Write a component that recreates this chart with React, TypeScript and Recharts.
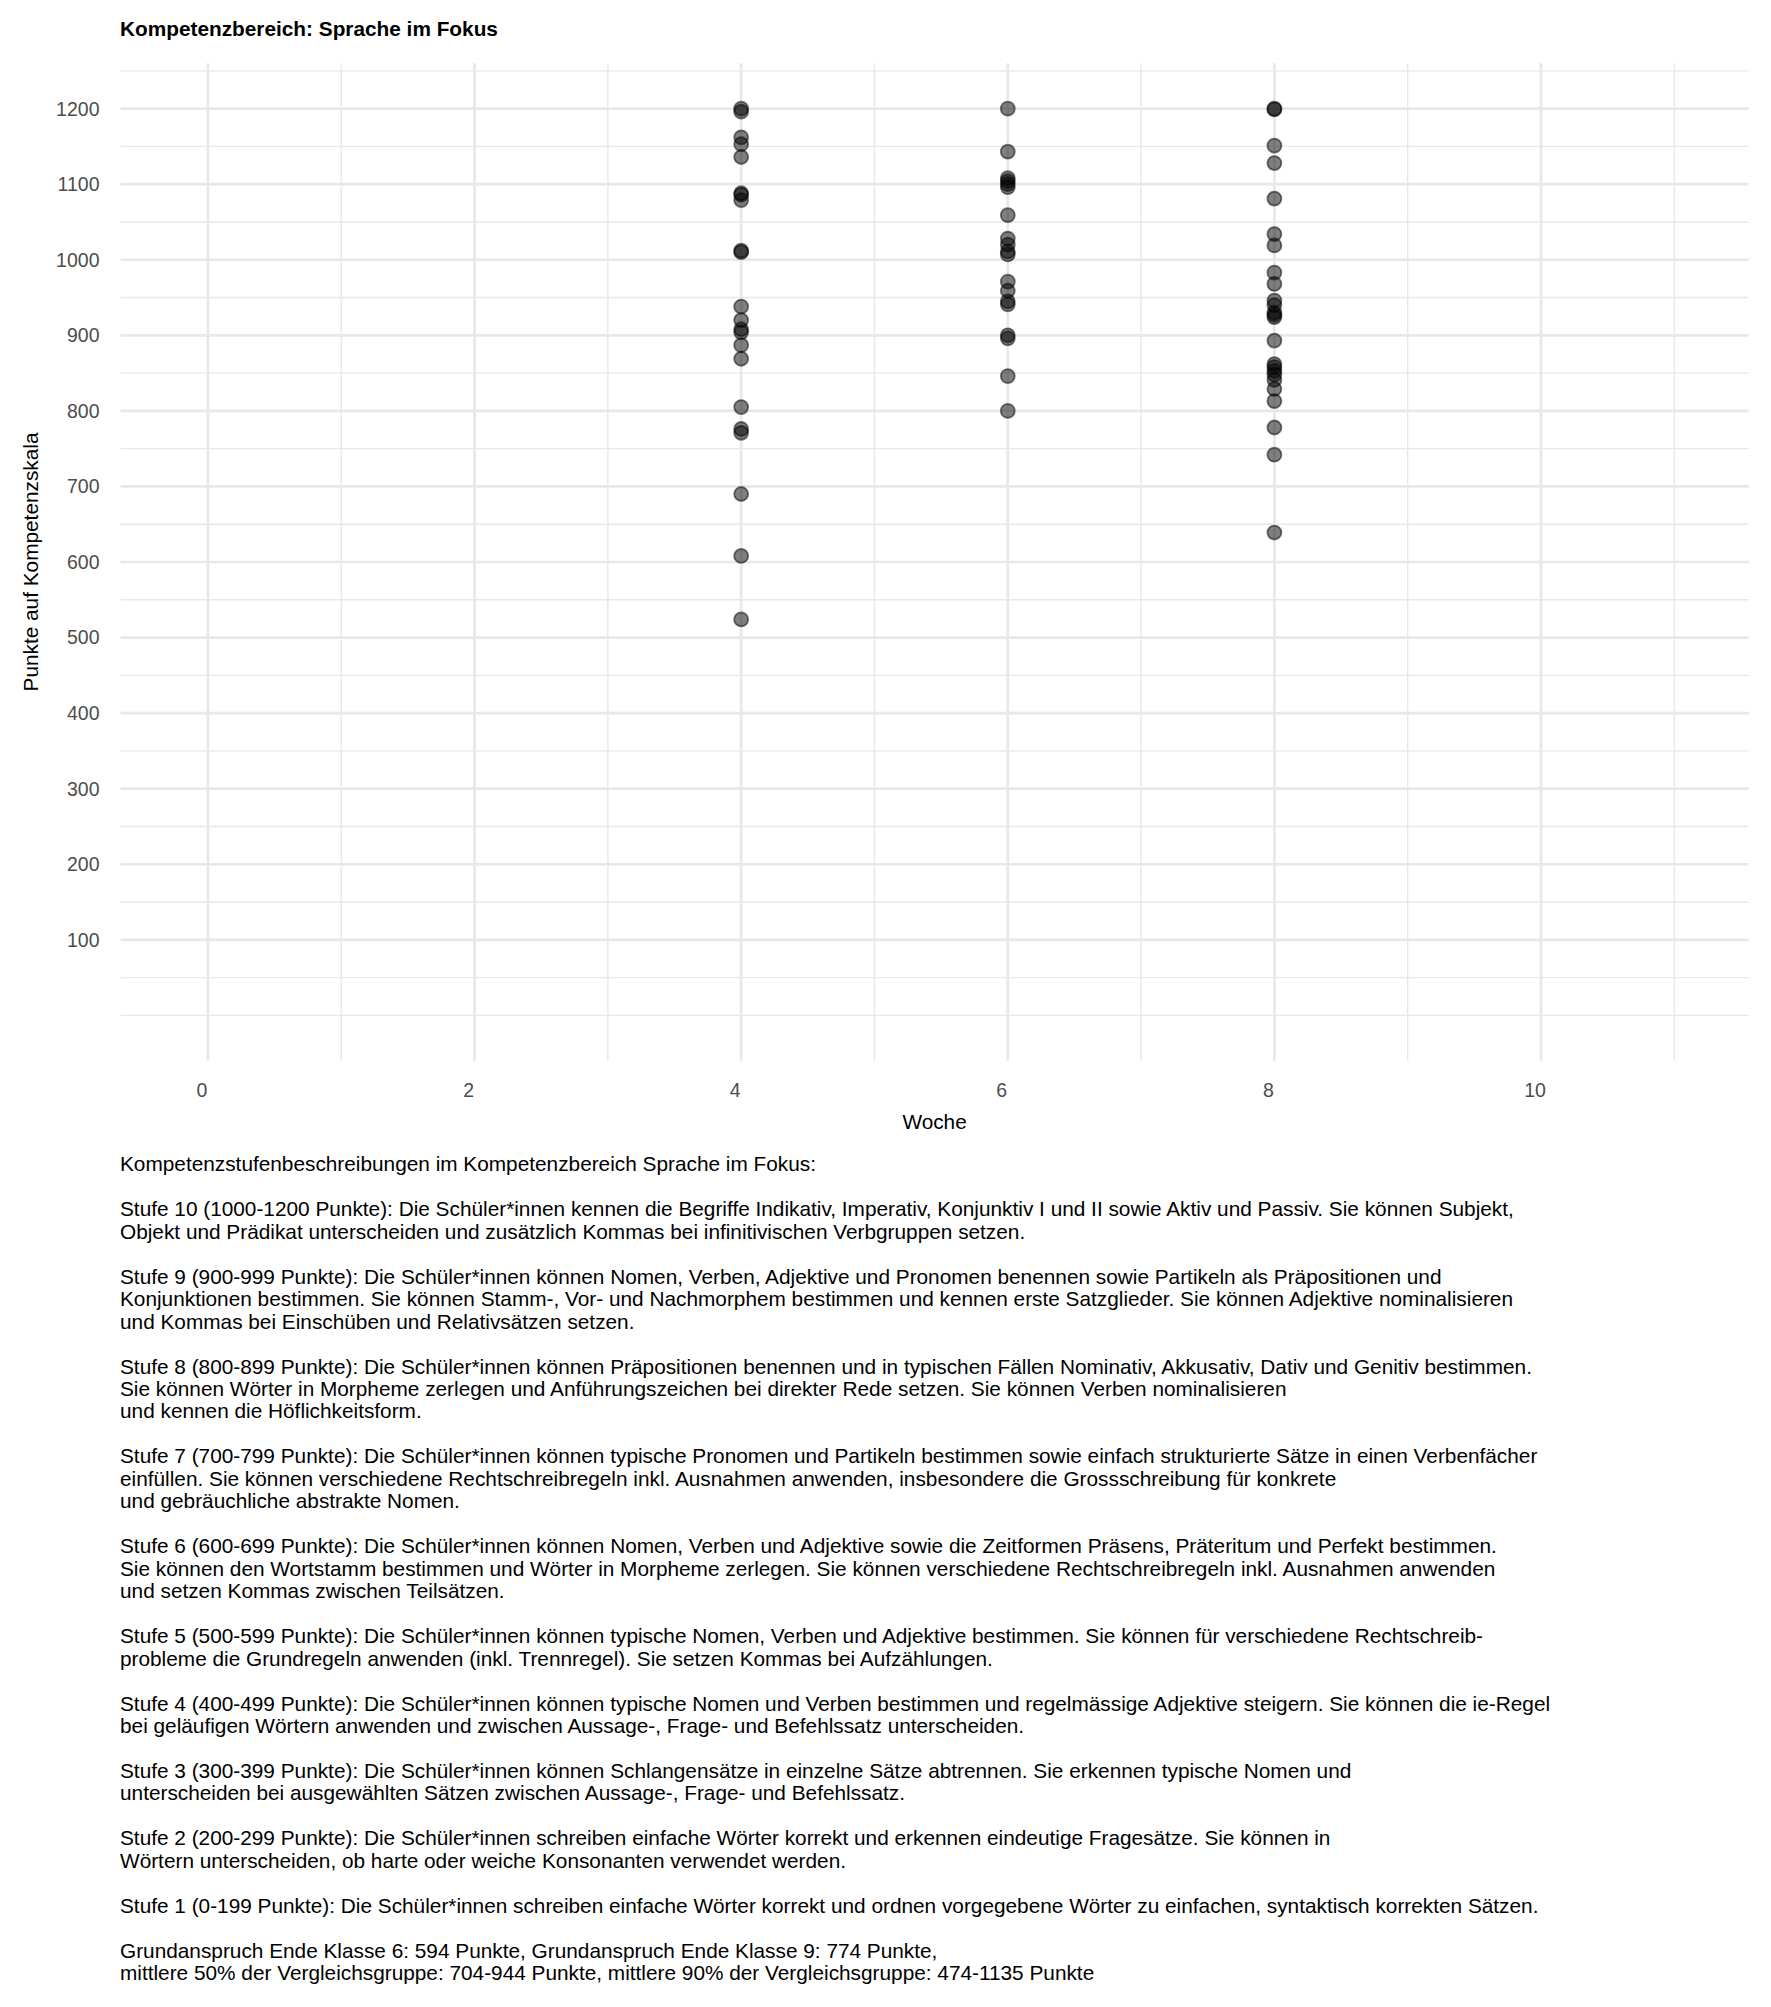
import React from "react";
import {
  ScatterChart,
  Scatter,
  XAxis,
  YAxis,
  ReferenceLine,
} from "recharts";

// Punkte je Testwoche
const woche4 = [
  1200, 1196, 1162, 1153, 1136, 1088, 1086, 1079, 1012, 1010, 938, 920, 908,
  904, 887, 869, 805, 776, 771, 690, 608, 524,
];
const woche6 = [
  1200, 1143, 1108, 1104, 1100, 1096, 1059, 1028, 1020, 1011, 1007, 971, 959,
  945, 941, 900, 896, 846, 800,
];
const woche8 = [
  1200, 1199, 1151, 1128, 1081, 1034, 1019, 983, 968, 946, 940, 930, 927, 924,
  893, 862, 858, 853, 848, 841, 829, 813, 778, 742, 639,
];

const xTicks = [0, 2, 4, 6, 8, 10];
const xMinor = [1, 3, 5, 7, 9, 11];
const yTicks = [100, 200, 300, 400, 500, 600, 700, 800, 900, 1000, 1100, 1200];
const yMinor = [0, 50, 150, 250, 350, 450, 550, 650, 750, 850, 950, 1050, 1150, 1250];

const beschreibung = [
  "Kompetenzstufenbeschreibungen im Kompetenzbereich Sprache im Fokus:",
  "",
  "Stufe 10 (1000-1200 Punkte): Die Schüler*innen kennen die Begriffe Indikativ, Imperativ, Konjunktiv I und II sowie Aktiv und Passiv. Sie können Subjekt,",
  "Objekt und Prädikat unterscheiden und zusätzlich Kommas bei infinitivischen Verbgruppen setzen.",
  "",
  "Stufe 9 (900-999 Punkte): Die Schüler*innen können Nomen, Verben, Adjektive und Pronomen benennen sowie Partikeln als Präpositionen und",
  "Konjunktionen bestimmen. Sie können Stamm-, Vor- und Nachmorphem bestimmen und kennen erste Satzglieder. Sie können Adjektive nominalisieren",
  "und Kommas bei Einschüben und Relativsätzen setzen.",
  "",
  "Stufe 8 (800-899 Punkte): Die Schüler*innen können Präpositionen benennen und in typischen Fällen Nominativ, Akkusativ, Dativ und Genitiv bestimmen.",
  "Sie können Wörter in Morpheme zerlegen und Anführungszeichen bei direkter Rede setzen. Sie können Verben nominalisieren",
  "und kennen die Höflichkeitsform.",
  "",
  "Stufe 7 (700-799 Punkte): Die Schüler*innen können typische Pronomen und Partikeln bestimmen sowie einfach strukturierte Sätze in einen Verbenfächer",
  "einfüllen. Sie können verschiedene Rechtschreibregeln inkl. Ausnahmen anwenden, insbesondere die Grossschreibung für konkrete",
  "und gebräuchliche abstrakte Nomen.",
  "",
  "Stufe 6 (600-699 Punkte): Die Schüler*innen können Nomen, Verben und Adjektive sowie die Zeitformen Präsens, Präteritum und Perfekt bestimmen.",
  "Sie können den Wortstamm bestimmen und Wörter in Morpheme zerlegen. Sie können verschiedene Rechtschreibregeln inkl. Ausnahmen anwenden",
  "und setzen Kommas zwischen Teilsätzen.",
  "",
  "Stufe 5 (500-599 Punkte): Die Schüler*innen können typische Nomen, Verben und Adjektive bestimmen. Sie können für verschiedene Rechtschreib-",
  "probleme die Grundregeln anwenden (inkl. Trennregel). Sie setzen Kommas bei Aufzählungen.",
  "",
  "Stufe 4 (400-499 Punkte): Die Schüler*innen können typische Nomen und Verben bestimmen und regelmässige Adjektive steigern. Sie können die ie-Regel",
  "bei geläufigen Wörtern anwenden und zwischen Aussage-, Frage- und Befehlssatz unterscheiden.",
  "",
  "Stufe 3 (300-399 Punkte): Die Schüler*innen können Schlangensätze in einzelne Sätze abtrennen. Sie erkennen typische Nomen und",
  "unterscheiden bei ausgewählten Sätzen zwischen Aussage-, Frage- und Befehlssatz.",
  "",
  "Stufe 2 (200-299 Punkte): Die Schüler*innen schreiben einfache Wörter korrekt und erkennen eindeutige Fragesätze. Sie können in",
  "Wörtern unterscheiden, ob harte oder weiche Konsonanten verwendet werden.",
  "",
  "Stufe 1 (0-199 Punkte): Die Schüler*innen schreiben einfache Wörter korrekt und ordnen vorgegebene Wörter zu einfachen, syntaktisch korrekten Sätzen.",
  "",
  "Grundanspruch Ende Klasse 6: 594 Punkte, Grundanspruch Ende Klasse 9: 774 Punkte,",
  "mittlere 50% der Vergleichsgruppe: 704-944 Punkte, mittlere 90% der Vergleichsgruppe: 474-1135 Punkte",
];

const FONT = "'Liberation Sans', Arial, Helvetica, sans-serif";
const GRID = "#e8e8e8";
const TEXT_SIZE = 20.8;
const TICK_SIZE = 19.5;

const punkte = [
  ...woche4.map((p) => ({ woche: 4, punkte: p })),
  ...woche6.map((p) => ({ woche: 6, punkte: p })),
  ...woche8.map((p) => ({ woche: 8, punkte: p })),
];

const Punkt = (props: any) => (
  <circle
    cx={props.cx}
    cy={props.cy}
    r={7}
    fill="rgba(0,0,0,0.5)"
    stroke="rgba(0,0,0,0.5)"
    strokeWidth={1.8}
  />
);

export default function App() {
  return (
    <div
      style={{
        position: "absolute",
        left: 0,
        top: 0,
        width: 1771,
        height: 2007,
        background: "#fff",
        fontFamily: FONT,
      }}
    >
      <div
        style={{
          position: "absolute",
          left: 120,
          top: 17,
          fontSize: TEXT_SIZE,
          lineHeight: "24px",
          fontWeight: 700,
          color: "#000",
          whiteSpace: "nowrap",
        }}
      >
        Kompetenzbereich: Sprache im Fokus
      </div>

      <div style={{ position: "absolute", left: 0, top: 0 }}>
        <ScatterChart
          width={1771}
          height={1141}
          margin={{ top: 63.3, right: 22.3, bottom: 0, left: 0 }}
        >
          {yMinor.map((v) => (
            <ReferenceLine key={"ym" + v} y={v} stroke={GRID} strokeWidth={1.4} />
          ))}
          {xMinor.map((v) => (
            <ReferenceLine key={"xm" + v} x={v} stroke={GRID} strokeWidth={1.4} />
          ))}
          {yTicks.map((v) => (
            <ReferenceLine key={"yM" + v} y={v} stroke={GRID} strokeWidth={2.7} />
          ))}
          {xTicks.map((v) => (
            <ReferenceLine key={"xM" + v} x={v} stroke={GRID} strokeWidth={2.7} />
          ))}
          <XAxis
            type="number"
            dataKey="woche"
            domain={[-0.656, 11.558]}
            allowDataOverflow
            ticks={xTicks}
            interval={0}
            height={80.3}
            axisLine={false}
            tickLine={false}
            tickSize={0}
            tickMargin={22}
            tick={{ fill: "#4d4d4d", fontSize: TICK_SIZE, fontFamily: FONT, dx: -6 }}
            label={{
              content: ({ viewBox }: any) => (
                <text
                  x={viewBox.x + viewBox.width / 2}
                  y={viewBox.y + 61}
                  textAnchor="middle"
                  dominantBaseline="central"
                  fontSize={TEXT_SIZE}
                  fontFamily={FONT}
                  fill="#000"
                >
                  Woche
                </text>
              ),
            }}
          />
          <YAxis
            type="number"
            dataKey="punkte"
            domain={[-60, 1260]}
            allowDataOverflow
            ticks={yTicks}
            interval={0}
            width={120.5}
            axisLine={false}
            tickLine={false}
            tickSize={0}
            tickMargin={21}
            tick={{ fill: "#4d4d4d", fontSize: TICK_SIZE, fontFamily: FONT }}
            label={{
              content: ({ viewBox }: any) => {
                const cx = 30;
                const cy = viewBox.y + viewBox.height / 2;
                return (
                  <text
                    x={cx}
                    y={cy}
                    transform={`rotate(-90 ${cx} ${cy})`}
                    textAnchor="middle"
                    dominantBaseline="central"
                    fontSize={TEXT_SIZE}
                    fontFamily={FONT}
                    fill="#000"
                  >
                    Punkte auf Kompetenzskala
                  </text>
                );
              },
            }}
          />
          <Scatter data={punkte} shape={Punkt} isAnimationActive={false} />
        </ScatterChart>
      </div>

      <div
        style={{
          position: "absolute",
          left: 120,
          top: 1153.3,
          fontSize: TEXT_SIZE,
          lineHeight: "22.47px",
          color: "#000",
          whiteSpace: "pre",
        }}
      >
        {beschreibung.map((z, i) => (
          <div key={i} style={{ height: 22.47 }}>
            {z}
          </div>
        ))}
      </div>
    </div>
  );
}
